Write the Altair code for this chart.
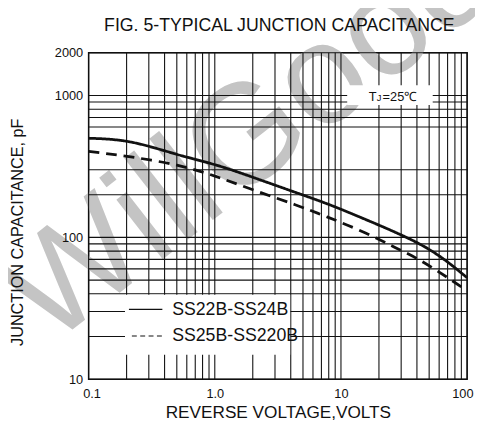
import altair as alt
import pandas as pd

# ---- data ----
series_names = ["SS22B-SS24B", "SS25B-SS220B"]
volts_solid = [0.1, 0.216, 0.50, 1.03, 2.11, 4.33, 7.83, 14.4, 33.0, 60.3, 100]
cap_solid = [500, 470, 385, 323, 261, 208, 172, 138, 100, 73.8, 52]
volts_dash = [0.1, 0.216, 0.50, 1.03, 2.11, 4.33, 7.83, 14.4, 26.1, 47.1, 100]
cap_dash = [404, 369, 323, 268, 213, 170, 139, 111, 86, 65.2, 42]

x_grid = [0.1, 0.2, 0.3, 0.4, 0.5, 0.6, 0.7, 0.8, 0.9,
          1, 2, 3, 4, 5, 6, 7, 8, 9,
          10, 20, 30, 40, 50, 60, 70, 80, 90, 100]
y_grid = [10, 20, 30, 40, 50, 60, 70, 80, 90, 100,
          200, 300, 600, 700, 800, 900, 1000, 2000]
x_labels = [0.1, 1, 10, 100]
y_labels = [10, 100, 1000, 2000]

curves = pd.DataFrame({
    "V": volts_solid + volts_dash,
    "C": cap_solid + cap_dash,
    "series": [series_names[0]] * len(volts_solid) + [series_names[1]] * len(volts_dash),
})
one = pd.DataFrame({"a": [0]})

FONT = "Liberation Sans"
INK = "#111111"

xscale = alt.Scale(type="log", domain=[0.1, 100], nice=False)
yscale = alt.Scale(type="log", domain=[10, 2000], nice=False)
xaxis = alt.Axis(values=x_labels, grid=False, ticks=False, domain=False, zindex=1,
                 labelExpr="datum.value == 1 ? '1.0' : format(datum.value, '')",
                 labelFont=FONT, labelFontSize=13, labelColor=INK, labelPadding=9,
                 labelFlush=True, labelFlushOffset=6,
                 title="REVERSE VOLTAGE,VOLTS", titleFont=FONT, titleFontSize=17.5,
                 titleFontWeight="normal", titleColor=INK, titleX=192.5, titleY=39,
                 titleAlign="center", titleBaseline="alphabetic")
yaxis = alt.Axis(values=y_labels, grid=False, ticks=False, domain=False, format="d", zindex=1,
                 labelFont=FONT, labelFontSize=13, labelColor=INK, labelPadding=6,
                 title="JUNCTION CAPACITANCE, pF", titleFont=FONT, titleFontSize=16.5,
                 titleFontWeight="normal", titleColor=INK, titleAngle=270,
                 titleX=-72, titleY=182, titleAlign="center", titleBaseline="middle",
                 labelFlush=False)

def X(f):
    return alt.X(f, type="quantitative", scale=xscale, axis=xaxis)

def Y(f):
    return alt.Y(f, type="quantitative", scale=yscale, axis=yaxis)

watermark = alt.Chart(one).mark_text(
    text="WillGood", font=FONT, fontSize=145, angle=322, color="#c4c4c4",
    align="left", baseline="alphabetic"
).encode(x=alt.value(-40), y=alt.value(300))

title = alt.Chart(one).mark_text(
    text="FIG. 5-TYPICAL JUNCTION CAPACITANCE", font=FONT, fontSize=18, color=INK,
    align="center", baseline="alphabetic"
).encode(x=alt.value(194), y=alt.value(-22))

vgrid = alt.Chart(pd.DataFrame({"gx": x_grid})).mark_rule(
    color=INK, strokeWidth=1.1).encode(x=X("gx"))
hgrid = alt.Chart(pd.DataFrame({"gy": y_grid})).mark_rule(
    color=INK, strokeWidth=1.1).encode(y=Y("gy"))

legend_box = alt.Chart(one).mark_rect(color="white").encode(
    x=alt.value(37), x2=alt.value(205), y=alt.value(246), y2=alt.value(307))
tj_box = alt.Chart(one).mark_rect(color="white").encode(
    x=alt.value(263), x2=alt.value(350), y=alt.value(33), y2=alt.value(53))

lines = alt.Chart(curves).mark_line(strokeWidth=2.8, color=INK, interpolate="natural").encode(
    x=X("V"), y=Y("C"),
    strokeDash=alt.StrokeDash("series:N",
                              scale=alt.Scale(domain=series_names, range=[[1, 0], [11, 7]]),
                              legend=None),
    detail="series:N",
)

leg_solid = alt.Chart(one).mark_rule(color=INK, strokeWidth=1.2).encode(
    x=alt.value(41), x2=alt.value(75), y=alt.value(261))
leg_dash = alt.Chart(one).mark_rule(color=INK, strokeWidth=1.2, strokeDash=[5, 3.5]).encode(
    x=alt.value(44), x2=alt.value(77), y=alt.value(288))
leg_t1 = alt.Chart(one).mark_text(text=series_names[0], font=FONT, fontSize=18, color=INK,
                                  align="left", baseline="middle").encode(
    x=alt.value(85), y=alt.value(262))
leg_t2 = alt.Chart(one).mark_text(text=series_names[1], font=FONT, fontSize=18, color=INK,
                                  align="left", baseline="middle").encode(
    x=alt.value(85), y=alt.value(288))

tj_T = alt.Chart(one).mark_text(text="T", font=FONT, fontSize=13, color=INK,
                                align="left", baseline="alphabetic").encode(
    x=alt.value(285), y=alt.value(49))
tj_J = alt.Chart(one).mark_text(text="J", font=FONT, fontSize=9.5, color=INK,
                                align="left", baseline="alphabetic").encode(
    x=alt.value(293), y=alt.value(49))
tj_rest = alt.Chart(one).mark_text(text="=25℃", font=FONT, fontSize=13, color=INK,
                                   align="left", baseline="alphabetic").encode(
    x=alt.value(299), y=alt.value(49))

chart = alt.layer(
    watermark, vgrid, hgrid, legend_box, tj_box, lines, title,
    leg_solid, leg_dash, leg_t1, leg_t2, tj_T, tj_J, tj_rest,
).properties(
    width=385, height=332,
    autosize=alt.AutoSizeParams(type="none"),
    padding={"left": 82, "top": 42, "right": 8, "bottom": 46},
).configure_view(stroke=INK, strokeWidth=1.5)

chart.save("out.html", embed_options={"renderer": "svg", "actions": False})
